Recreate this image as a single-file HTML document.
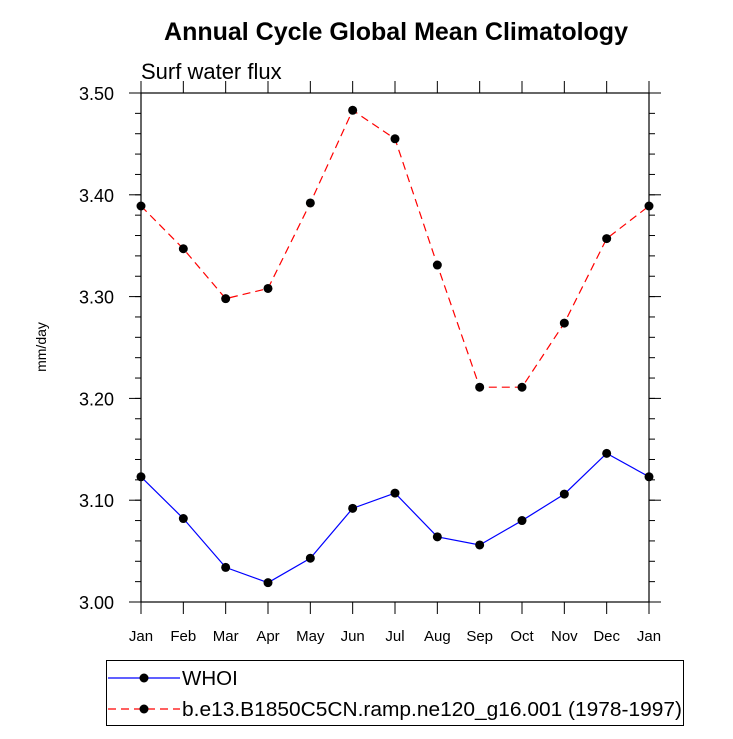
<!DOCTYPE html>
<html><head><meta charset="utf-8"><style>
body{margin:0;background:#fff;}
svg text{font-family:"Liberation Sans",Arial,sans-serif;}
</style></head><body>
<svg id="chart" width="733" height="734" xmlns="http://www.w3.org/2000/svg">
<rect width="733" height="734" fill="#fff"/>
<text x="396" y="40" text-anchor="middle" font-size="25" font-weight="bold">Annual Cycle Global Mean Climatology</text>
<text x="141" y="79" font-size="22">Surf water flux</text>
<text transform="translate(46,347) rotate(-90)" text-anchor="middle" font-size="14">mm/day</text>
<g id="axes"></g>
<g id="series"></g>
<g>
<rect x="106.5" y="660.5" width="577" height="65" fill="none" stroke="#000"/>
<g>
<line x1="108" y1="678" x2="180" y2="678" stroke="#00f" stroke-width="1.2"/>
<circle cx="144" cy="678" r="4.5" fill="#000"/>
<text x="182" y="685" font-size="20.5">WHOI</text></g>
<g>
<line x1="108" y1="709" x2="180" y2="709" stroke="#f00" stroke-width="1.2" stroke-dasharray="8,5"/>
<circle cx="144" cy="709" r="4.5" fill="#000"/>
<text x="182" y="716" font-size="20.5" textLength="500" lengthAdjust="spacingAndGlyphs">b.e13.B1850C5CN.ramp.ne120_g16.001 (1978-1997)</text></g>
</g>
</svg>
<script>
const months=["Jan","Feb","Mar","Apr","May","Jun","Jul","Aug","Sep","Oct","Nov","Dec","Jan"];
const yTicks=[3.00,3.10,3.20,3.30,3.40,3.50];
const whoiValues=[3.123,3.082,3.034,3.019,3.043,3.092,3.107,3.064,3.056,3.080,3.106,3.146,3.123];
const modelValues=[3.389,3.347,3.298,3.308,3.392,3.483,3.455,3.331,3.211,3.211,3.274,3.357,3.389];
const L=141,R=649,T=93,B=602,ymin=3.0,ymax=3.5;
const xs=i=>L+(R-L)*i/(months.length-1);
const ys=v=>B-(v-ymin)/(ymax-ymin)*(B-T);
const NS="http://www.w3.org/2000/svg";
function mk(tag,attrs,parent){const e=document.createElementNS(NS,tag);for(const k in attrs)e.setAttribute(k,attrs[k]);parent.appendChild(e);return e;}
const ax=document.getElementById('axes');
const frame=mk('rect',{x:L,y:T,width:R-L,height:B-T,fill:'none',stroke:'#000','stroke-width':1.2},ax);


months.forEach((m,i)=>{const x=xs(i);
 mk('line',{x1:x,y1:B,x2:x,y2:B+12,stroke:'#000'},ax);
 mk('line',{x1:x,y1:T,x2:x,y2:T-12,stroke:'#000'},ax);
 const t=mk('text',{x:x,y:B+39,'text-anchor':'middle','font-size':15},ax);t.textContent=m;
 
 
});
for(let v=ymin;v<=ymax+1e-9;v+=0.02){const y=ys(v);
 mk('line',{x1:L,y1:y,x2:L-6,y2:y,stroke:'#000'},ax);
 mk('line',{x1:R,y1:y,x2:R+6,y2:y,stroke:'#000'},ax);}
yTicks.forEach(v=>{const y=ys(v);
 mk('line',{x1:L,y1:y,x2:L-12,y2:y,stroke:'#000'},ax);
 mk('line',{x1:R,y1:y,x2:R+12,y2:y,stroke:'#000'},ax);
 const t=mk('text',{x:L-27,y:y+7,'text-anchor':'end','font-size':18},ax);t.textContent=v.toFixed(2);
 
 
});
const sg=document.getElementById('series');
function series(vals,color,dash,name){
 const g=mk('g',{},sg);
 
 
 const a={points:vals.map((v,i)=>xs(i)+','+ys(v)).join(' '),fill:'none',stroke:color,'stroke-width':1.2};
 if(dash)a['stroke-dasharray']=dash;
 mk('polyline',a,g);
 vals.forEach((v,i)=>{const c=mk('circle',{cx:xs(i),cy:ys(v),r:4.5,fill:'#000'},g);
  
  });
}
series(whoiValues,'#00f',null,'series-whoi');
series(modelValues,'#f00','8,5','series-model');
</script>
</body></html>
